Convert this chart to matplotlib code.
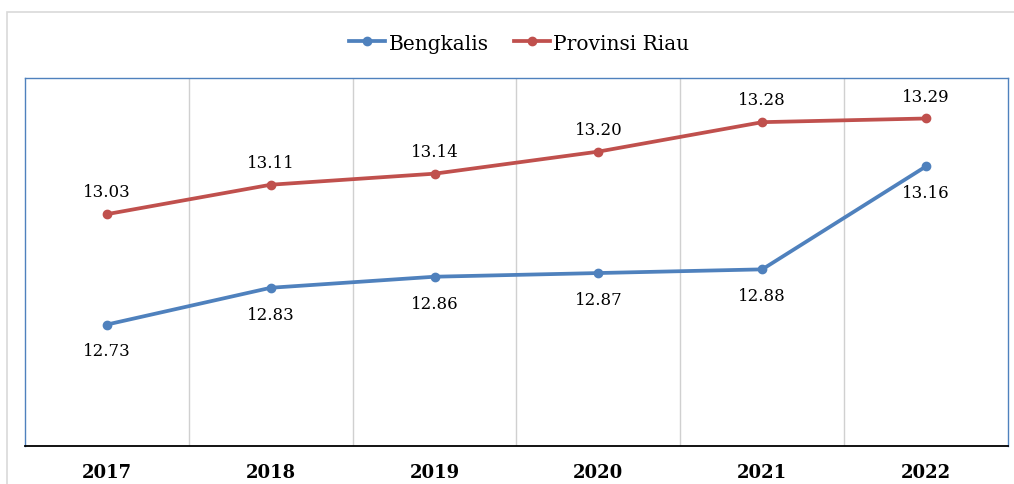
import matplotlib.pyplot as plt
from matplotlib.patches import Rectangle

years = ['2017', '2018', '2019', '2020', '2021', '2022']
bengkalis = [12.73, 12.83, 12.86, 12.87, 12.88, 13.16]
riau = [13.03, 13.11, 13.14, 13.20, 13.28, 13.29]

plt.rcParams['font.family'] = ['DejaVu Serif']

fig = plt.figure(figsize=(10.14, 4.85), dpi=100)
# outer chart frame
fig.patches.append(Rectangle((7 / 1014, -0.1), 1.1, 1 - 13 / 485 + 0.1,
                             transform=fig.transFigure, fill=False,
                             edgecolor='#d9d9d9', linewidth=1.2))

ax = fig.add_axes([25 / 1014, 1 - 447 / 485, 983 / 1014, 368 / 485])
x = list(range(len(years)))

ax.plot(x, bengkalis, color='#4F81BD', lw=2.7, marker='o', ms=6, label='Bengkalis')
ax.plot(x, riau, color='#C0504D', lw=2.7, marker='o', ms=6, label='Provinsi Riau')

for i, v in enumerate(bengkalis):
    ax.annotate('%.2f' % v, (i, v), xytext=(0, -19), textcoords='offset points',
                ha='center', va='center', fontsize=12)
for i, v in enumerate(riau):
    ax.annotate('%.2f' % v, (i, v), xytext=(0, 16), textcoords='offset points',
                ha='center', va='center', fontsize=12)

ax.set_xlim(-0.5, 5.5)
ax.set_ylim(12.4, 13.4)
ax.set_yticks([])
ax.set_xticks(x)
ax.set_xticklabels(years, fontsize=13, fontweight='bold')
ax.tick_params(axis='x', length=0, pad=12)
for b in [0.5, 1.5, 2.5, 3.5, 4.5]:
    ax.axvline(b, color='#d0d0d0', lw=1, zorder=0)

for s in ['left', 'top', 'right']:
    ax.spines[s].set_color('#4F81BD')
    ax.spines[s].set_linewidth(1)
ax.spines['bottom'].set_color('black')
ax.spines['bottom'].set_linewidth(1.3)

fig.legend(loc='center', bbox_to_anchor=(0.512, 1 - 44 / 485), ncol=2,
           frameon=False, fontsize=14.5, handlelength=1.8, handletextpad=0.15,
           columnspacing=1.25)

fig.savefig('out.png', dpi=100)
